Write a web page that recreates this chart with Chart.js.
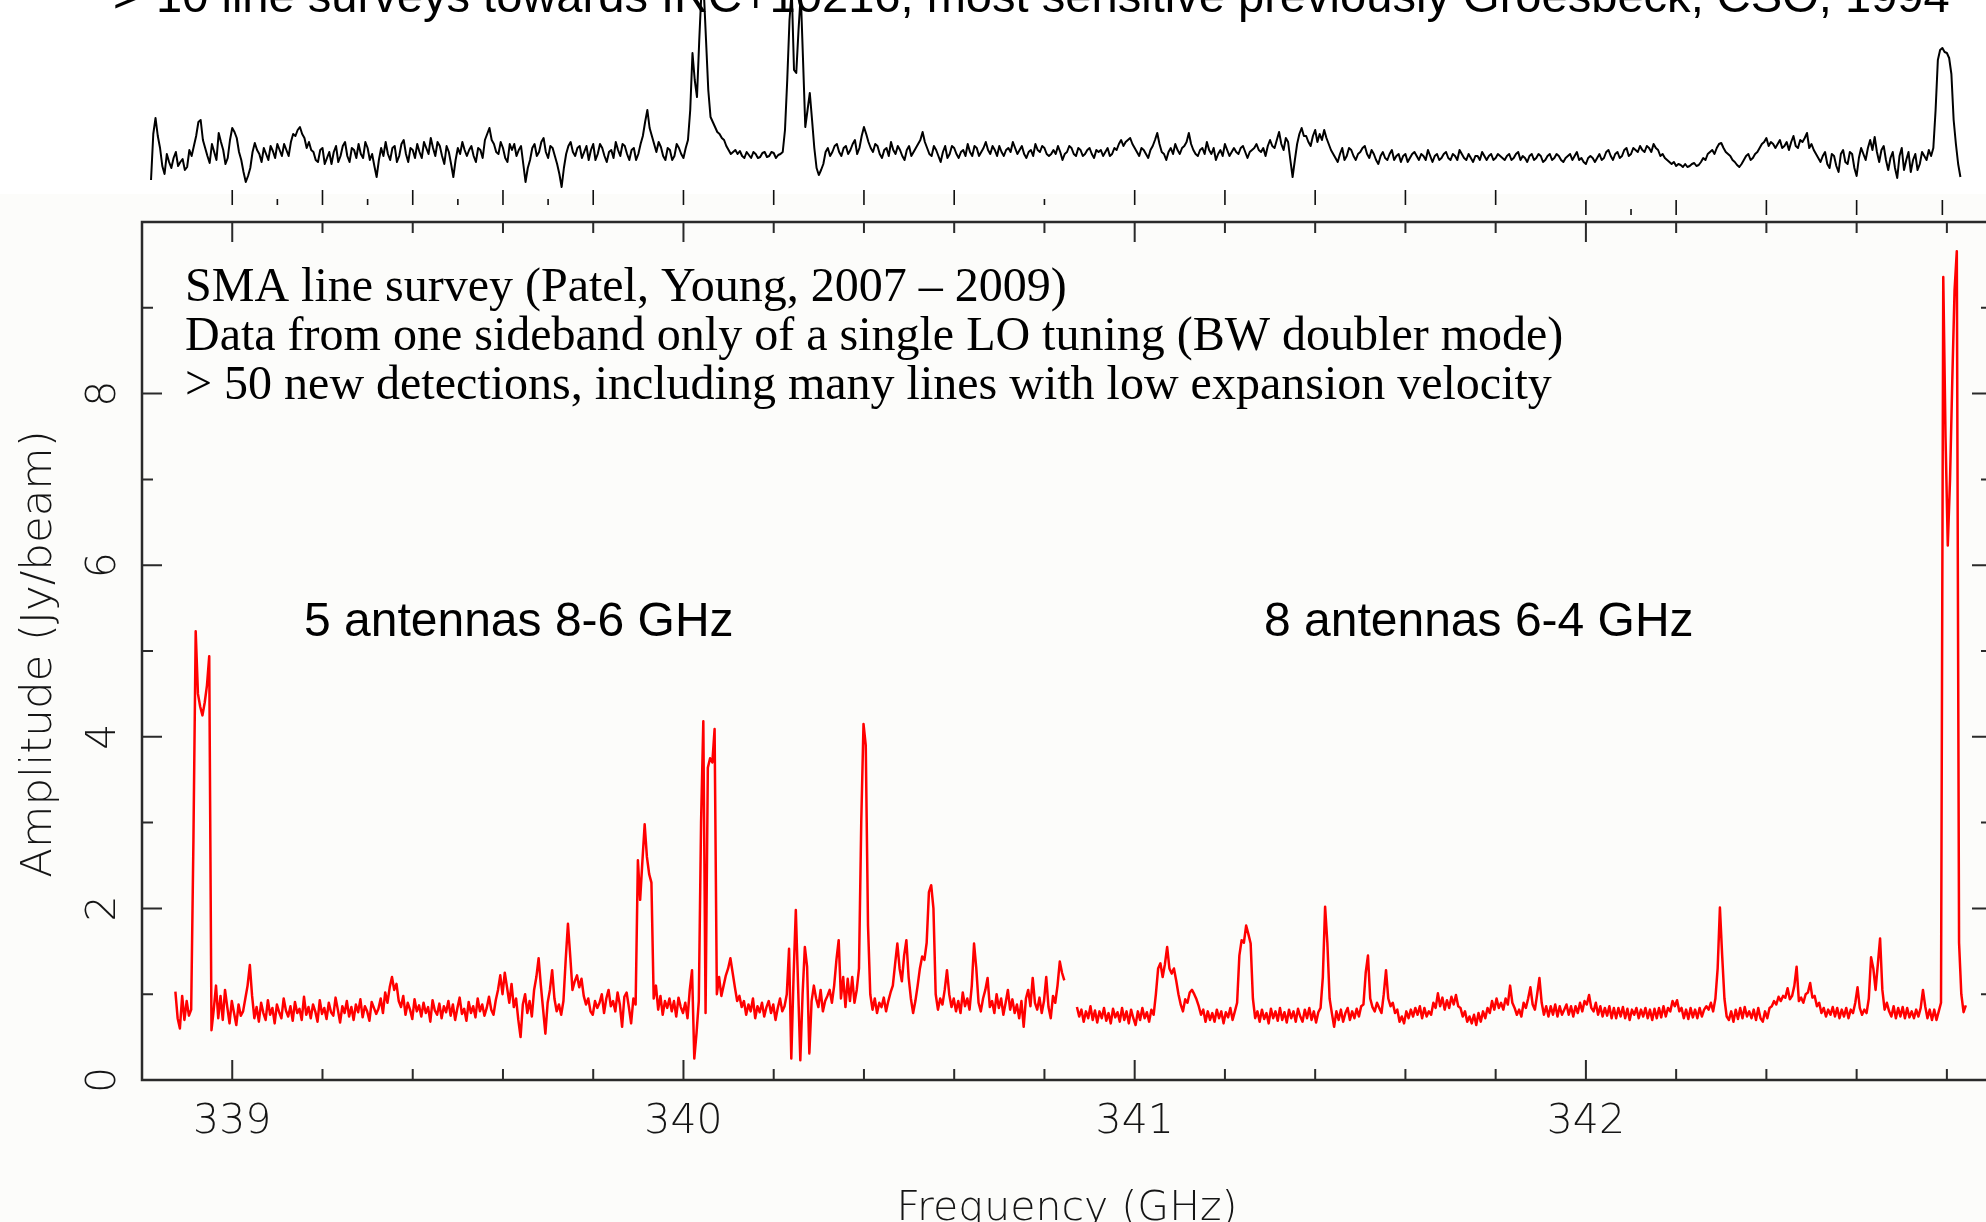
<!DOCTYPE html>
<html><head><meta charset="utf-8">
<script src="https://cdn.jsdelivr.net/npm/chart.js@4.4.1/dist/chart.umd.min.js"></script>
<style>
html,body{margin:0;padding:0;overflow:hidden;background:#fff;width:1986px;height:1222px;}
#main{position:absolute;left:0;top:0;}
#top{position:absolute;left:0;top:0;z-index:2;}
</style></head><body>
<canvas id="main" width="2010" height="1222"></canvas>
<canvas id="top" width="2010" height="222"></canvas>
<script>
// ---------------- DATA ----------------
// SMA spectrum, two spectral bands (channel spacing 5 MHz)
const channelGHz = 0.005;
const band1StartGHz = 338.874;   // 5 antennas 8-6 GHz
const band2StartGHz = 340.872;   // 8 antennas 6-4 GHz
const band1Amp = [
1.03,0.72,0.60,0.98,0.70,0.92,0.75,0.82,2.80,5.23,
4.50,4.35,4.25,4.40,4.60,4.94,0.58,0.82,1.10,0.72,
0.98,0.70,1.05,0.85,0.66,0.92,0.78,0.64,0.88,0.75,
0.80,0.95,1.10,1.34,0.98,0.72,0.85,0.68,0.90,0.78,
0.70,0.93,0.76,0.84,0.66,0.88,0.79,0.72,0.95,0.81,
0.74,0.86,0.69,0.91,0.78,0.83,0.70,0.97,0.76,0.85,
0.72,0.88,0.80,0.68,0.93,0.77,0.84,0.71,0.90,0.79,
0.75,0.96,0.82,0.67,0.86,0.78,0.92,0.74,0.85,0.70,
0.88,0.79,0.94,0.73,0.86,0.80,0.69,0.91,0.84,0.77,
0.83,0.95,0.78,1.02,0.90,1.08,1.20,1.05,1.12,0.92,
0.85,0.98,0.76,0.90,0.82,0.71,0.94,0.80,0.87,0.74,
0.90,0.78,0.85,0.68,0.93,0.81,0.76,0.89,0.72,0.86,
0.79,0.92,0.75,0.88,0.70,0.84,0.96,0.77,0.83,0.69,
0.91,0.78,0.86,0.73,0.95,0.80,0.88,0.75,0.84,0.97,
0.82,0.76,0.93,1.05,1.22,1.00,1.25,1.08,0.90,1.12,
0.85,0.95,0.70,0.50,0.88,1.00,0.78,0.92,0.74,1.05,
1.20,1.42,1.10,0.82,0.54,0.90,1.05,1.28,0.95,0.80,
0.88,0.76,0.92,1.40,1.82,1.45,1.05,1.15,1.22,1.08,
1.18,0.98,0.88,0.95,0.80,0.76,0.92,0.84,0.90,1.00,
0.78,0.95,1.05,0.86,0.92,0.80,1.02,0.88,0.62,0.97,
1.02,0.85,0.66,0.95,0.88,2.56,2.10,2.55,2.98,2.60,
2.40,2.30,0.95,1.10,0.82,0.98,0.76,0.92,0.84,0.95,
0.80,0.92,0.74,0.96,0.85,0.78,0.90,0.72,1.05,1.28,
0.25,0.55,0.92,3.00,4.18,0.78,3.64,3.75,3.70,4.09,
1.00,1.20,0.98,1.10,1.22,1.30,1.42,1.25,1.08,0.92,
0.98,0.85,0.92,0.76,0.88,0.80,0.95,0.72,0.86,0.79,
0.90,0.74,0.85,0.92,0.78,0.88,0.70,0.84,0.95,0.80,
0.86,1.00,1.53,0.25,1.20,1.98,1.10,0.23,1.00,1.55,
1.32,0.31,0.92,1.10,0.95,0.85,1.05,0.80,0.92,0.98,
1.05,0.90,1.10,1.40,1.63,0.95,1.20,0.85,1.18,0.92,
1.20,0.90,1.05,1.30,3.00,4.15,3.90,1.80,1.00,0.82,
0.95,0.78,0.90,0.85,0.96,0.80,0.92,1.02,1.10,1.35,
1.59,1.30,1.15,1.45,1.63,1.20,0.95,0.78,0.92,1.10,
1.30,1.44,1.40,1.60,2.19,2.27,2.00,1.00,0.82,0.95,
0.88,1.05,1.28,1.00,0.85,0.95,0.80,0.92,0.78,1.02,
0.86,0.95,0.82,1.10,1.59,1.30,0.90,0.80,0.95,1.05,
1.19,0.85,0.92,0.78,1.00,0.84,0.95,0.76,0.90,1.05,
0.82,0.94,0.78,0.88,0.72,0.92,0.62,0.95,1.05,0.86,
1.19,0.90,0.82,0.96,0.78,0.92,1.20,0.85,0.72,0.98,
0.90,1.10,1.38,1.25,1.16
];
const band2Amp = [
0.85,0.74,0.82,0.68,0.80,0.72,0.86,0.70,0.81,0.67,
0.80,0.72,0.84,0.69,0.78,0.66,0.83,0.73,0.79,0.68,
0.84,0.70,0.80,0.66,0.82,0.72,0.64,0.80,0.70,0.84,
0.72,0.79,0.68,0.82,0.76,1.00,1.30,1.36,1.20,1.35,
1.55,1.30,1.24,1.30,1.16,1.00,0.88,0.80,0.94,0.90,
1.02,1.05,1.00,0.94,0.86,0.76,0.82,0.68,0.80,0.70,
0.78,0.68,0.82,0.72,0.80,0.66,0.79,0.73,0.84,0.70,
0.80,0.90,1.45,1.63,1.60,1.80,1.70,1.59,0.95,0.72,
0.80,0.68,0.82,0.71,0.78,0.66,0.83,0.72,0.80,0.69,
0.84,0.70,0.79,0.67,0.82,0.72,0.80,0.68,0.83,0.74,
0.68,0.82,0.72,0.84,0.70,0.80,0.67,0.79,0.84,1.20,
2.02,1.60,0.95,0.78,0.62,0.80,0.70,0.82,0.68,0.78,
0.84,0.70,0.80,0.72,0.83,0.74,0.86,0.88,1.25,1.45,
0.95,0.85,0.80,0.90,0.84,0.78,1.00,1.28,0.95,0.86,
0.90,0.78,0.82,0.68,0.74,0.66,0.80,0.72,0.82,0.74,
0.84,0.76,0.86,0.72,0.84,0.74,0.80,0.76,0.90,0.84,
1.01,0.86,0.96,0.82,0.93,0.84,0.97,0.88,0.99,0.86,
0.84,0.74,0.80,0.68,0.74,0.66,0.76,0.64,0.78,0.68,
0.80,0.72,0.84,0.78,0.92,0.82,0.95,0.84,0.90,0.82,
0.95,0.88,1.10,0.90,0.84,0.76,0.82,0.74,0.90,0.84,
0.95,1.08,0.88,0.82,1.00,1.19,0.90,0.76,0.86,0.74,
0.86,0.76,0.88,0.74,0.86,0.76,0.82,0.88,0.76,0.86,
0.74,0.86,0.78,0.90,0.80,0.92,0.88,0.99,0.84,0.80,
0.90,0.76,0.86,0.74,0.84,0.75,0.86,0.72,0.84,0.72,
0.84,0.74,0.85,0.72,0.83,0.70,0.82,0.76,0.84,0.72,
0.82,0.74,0.84,0.72,0.82,0.70,0.83,0.72,0.84,0.73,
0.86,0.74,0.84,0.80,0.92,0.86,0.93,0.80,0.84,0.72,
0.82,0.71,0.84,0.73,0.82,0.72,0.84,0.74,0.82,0.86,
0.82,0.90,0.80,0.95,1.30,2.01,1.45,0.95,0.74,0.70,
0.80,0.68,0.82,0.71,0.84,0.72,0.85,0.74,0.80,0.72,
0.82,0.70,0.84,0.72,0.68,0.80,0.72,0.84,0.86,0.92,
0.88,0.97,0.92,0.98,0.96,1.07,0.94,0.98,1.10,1.32,
0.92,0.96,0.90,1.00,1.02,1.13,0.96,0.98,0.86,0.90,
0.78,0.84,0.74,0.82,0.76,0.85,0.74,0.84,0.72,0.82,
0.74,0.84,0.72,0.82,0.78,0.90,1.08,0.84,0.76,0.82,
0.78,0.95,1.43,1.30,1.05,1.35,1.65,1.05,0.82,0.90,
0.80,0.74,0.86,0.72,0.84,0.74,0.85,0.72,0.84,0.73,
0.80,0.72,0.82,0.74,0.84,1.05,0.86,0.72,0.82,0.70,
0.82,0.70,0.80,0.90,9.36,7.50,6.23,7.00,8.16,9.20,
9.66,1.60,1.00,0.79,0.87
];
// Earlier survey (top strip), arbitrary units.
// Read on a 10 MHz grid starting at 338.820 GHz, plus the channels in between (starting at 338.825 GHz).
const oldStepGHz = 0.01;
const oldStartGHz = 338.82;
const oldMidStartGHz = 338.825;
const oldSurvey = [
1.0,4.1,2.6,1.3,1.9,2.1,1.7,2.05,1.65,2.2,
3.2,4.0,2.6,1.85,2.4,3.35,2.5,2.1,3.6,3.1,
2.0,0.9,1.6,2.85,2.3,2.6,2.0,2.45,2.8,2.2,
2.5,2.9,3.2,3.65,3.1,2.9,2.4,1.9,2.6,2.1,
1.8,2.7,2.2,2.9,1.9,2.5,2.8,2.1,2.6,2.3,
1.15,2.6,2.9,2.0,2.7,2.2,3.0,1.9,2.5,2.8,
2.1,2.6,3.1,2.2,2.7,1.8,2.4,1.15,2.6,2.9,
2.2,2.7,1.9,2.5,3.0,3.6,2.8,2.3,2.6,1.9,
2.5,2.2,2.7,0.9,2.0,2.8,2.4,3.1,2.1,2.6,
1.8,0.65,2.3,2.9,2.2,2.7,2.4,2.0,2.8,2.3,
2.6,1.9,2.5,2.9,2.2,2.7,2.0,2.6,2.3,3.2,
4.5,3.2,2.4,2.65,2.0,2.5,2.2,2.6,2.1,3.0,
7.35,5.15,10.5,8.0,4.15,3.65,3.3,3.0,2.5,2.4,
2.3,2.2,2.4,2.1,2.3,2.15,2.4,2.2,2.35,2.25,
2.4,6.0,10.5,6.35,10.3,3.65,5.35,2.6,1.25,1.8,
2.6,2.4,2.8,2.2,2.7,2.5,3.0,2.6,3.65,2.9,
2.4,2.7,2.1,2.6,2.9,2.3,2.5,2.0,2.7,2.4,
2.8,3.4,2.6,2.2,2.5,1.9,2.7,2.3,2.6,2.1,
2.5,2.8,2.2,2.6,2.4,2.9,2.3,2.5,2.7,2.2,
2.6,2.9,2.3,2.7,2.1,2.5,2.8,2.4,2.6,2.2,
2.5,2.7,2.0,2.4,2.6,2.2,2.5,2.3,2.6,2.1,
2.4,2.2,2.6,2.3,2.5,3.0,2.9,3.1,2.6,2.2,
2.5,2.1,2.7,3.35,2.4,2.0,2.6,2.8,2.3,2.7,
3.35,2.5,2.2,2.6,2.9,2.3,2.0,2.5,2.8,2.2,
2.6,2.3,2.7,2.1,2.5,2.8,2.4,2.2,3.0,2.6,
3.4,2.5,2.9,1.15,2.8,3.6,3.2,2.7,3.5,3.3,
3.5,2.8,2.3,1.9,2.6,2.2,2.5,2.0,2.4,2.7,
2.1,2.3,1.8,2.4,2.0,2.5,2.2,1.9,2.3,2.1,
2.4,2.0,2.2,2.5,1.9,2.3,2.1,2.4,2.0,2.2,
2.5,2.1,2.3,1.9,2.2,2.4,2.0,2.3,2.1,2.2,
2.0,2.3,2.1,2.4,2.2,1.9,2.3,2.1,2.2,2.0,
2.3,2.1,2.2,1.9,2.2,2.0,2.4,2.1,1.8,2.2,
1.9,2.3,2.1,2.5,2.0,2.4,2.2,2.6,2.3,2.5,
2.7,2.4,2.6,2.8,2.5,2.3,2.0,1.8,1.7,1.75,
1.8,1.7,1.85,1.75,2.1,2.3,2.5,2.6,2.85,2.4,
2.2,1.9,1.65,2.0,2.3,2.1,2.4,2.8,3.1,2.9,
2.6,3.0,2.7,2.5,3.2,2.6,2.9,3.35,2.8,2.3,
1.9,2.4,1.6,2.2,1.4,2.5,1.8,2.3,1.2,2.6,
2.0,3.0,3.15,1.9,2.7,1.5,2.4,1.1,2.6,2.0,
1.4,2.3,1.8,2.2,2.5,2.6,7.0,7.6,7.35,6.3,
2.8,1.15
];
const oldSurveyMid = [
3.3,3.2,1.7,2.3,1.6,2.4,1.9,1.5,2.5,2.7,
3.9,3.0,2.2,2.8,2.0,2.9,1.8,3.0,3.4,2.4,
1.4,1.2,2.4,2.5,1.9,2.3,2.7,2.1,2.5,2.8,
2.2,3.3,3.5,3.3,2.6,2.5,2.0,2.5,1.8,2.4,
2.4,1.9,2.7,2.2,2.6,2.1,2.3,2.9,2.0,1.7,
2.0,2.2,2.3,2.6,1.9,2.8,2.3,2.6,2.1,2.4,
2.9,2.3,2.6,2.9,2.2,2.7,1.8,2.0,2.3,2.5,
2.5,2.2,2.6,2.1,3.3,3.0,2.4,2.9,2.1,2.8,
2.8,2.5,1.8,1.6,2.6,2.2,2.9,2.4,2.7,2.2,
1.3,1.6,2.7,2.4,2.6,2.1,2.7,2.5,2.0,2.8,
2.2,2.4,2.1,2.5,2.8,2.3,2.5,2.0,2.8,3.9,
3.6,2.8,2.9,2.2,2.6,2.0,2.8,2.3,2.6,4.5,
6.0,8.0,10.5,5.5,3.9,3.4,3.1,2.7,2.3,2.5,
2.45,2.1,2.25,2.4,2.1,2.35,2.15,2.4,2.1,2.3,
3.5,9.0,6.5,8.5,7.0,4.5,4.0,1.6,1.5,2.4,
2.2,2.7,2.4,2.6,2.3,2.8,2.3,3.2,3.3,2.6,
2.8,2.3,2.5,2.2,2.5,2.7,2.2,2.5,2.2,2.6,
3.0,2.9,2.3,2.7,2.2,2.4,2.1,2.7,2.3,2.4,
2.2,2.4,2.7,2.2,2.6,2.5,2.7,2.2,2.4,2.5,
2.4,2.6,2.5,2.3,2.4,2.2,2.5,2.7,2.3,2.3,
2.3,2.4,2.3,2.7,2.3,2.6,2.2,2.5,2.3,2.5,
2.5,2.4,2.2,2.6,2.8,2.7,3.0,2.8,2.4,2.6,
2.3,2.5,3.0,2.8,2.3,2.4,2.3,2.5,2.6,2.9,
2.8,2.3,2.5,2.3,2.5,2.6,2.3,2.2,2.5,2.4,
2.4,2.6,2.4,2.4,2.6,2.5,2.6,2.7,2.7,3.0,
2.8,3.1,2.0,2.0,3.3,3.2,2.9,3.2,2.9,3.0,
3.1,2.5,2.1,2.3,2.0,2.6,2.2,2.3,2.6,2.3,
2.5,2.0,2.2,2.1,2.3,2.0,2.3,2.2,1.9,2.3,
2.2,2.3,2.0,2.2,2.2,2.0,2.3,2.1,2.3,2.0,
2.3,2.0,2.1,2.2,2.0,2.2,2.2,2.0,2.3,2.1,
2.2,2.0,2.3,2.0,2.1,2.2,2.0,2.3,1.9,2.2,
2.0,2.3,2.0,2.1,2.3,2.2,2.0,1.9,2.1,2.1,
2.1,2.0,2.4,2.2,2.3,2.1,2.5,2.2,2.6,2.4,
2.5,2.7,2.4,2.6,2.2,2.1,1.9,1.9,1.8,1.65,
1.65,1.8,1.7,1.9,2.0,2.4,2.3,2.8,2.6,2.3,
2.0,1.75,1.8,2.2,2.0,2.3,2.6,2.9,2.7,2.8,
2.8,2.6,2.9,2.9,2.7,3.0,3.1,2.6,2.5,2.1,
2.2,1.8,2.3,1.7,2.3,1.9,2.4,1.6,2.1,2.3,
2.6,2.5,2.4,2.5,2.0,2.1,1.6,2.2,1.5,2.4,
2.0,1.5,2.4,2.0,2.2,4.5,7.5,7.4,7.1,4.0,
1.8
];
// Axes / ticks
const xMajorTicks = [339, 340, 341, 342];
const xTickLabels = ['339', '340', '341', '342'];
const xMinorTicks = [339.2, 339.4, 339.6, 339.8, 340.2, 340.4, 340.6, 340.8, 341.2, 341.4, 341.6, 341.8, 342.2, 342.4, 342.6, 342.8];
const yMajorTicks = [0, 2, 4, 6, 8, 10];
const yMinorTicks = [1, 3, 5, 7, 9];
const yLabelTicks = [0, 2, 4, 6, 8];
const yTickLabels = ['0', '2', '4', '6', '8'];
const oldLongTicks = [339.0, 339.2, 339.4, 339.6, 339.8, 340.0, 340.2, 340.4, 340.6, 341.0, 341.2, 341.4, 341.6, 341.8];
const oldShortTicks = [339.1, 339.3, 339.5, 339.7, 340.8];
const oldLongTicksLow = [342.0, 342.2, 342.4, 342.6, 342.79];
const oldShortTicksLow = [342.1];
// Texts
const xTitle = 'Frequency (GHz)';
const yTitle = 'Amplitude (Jy/beam)';
const noteLines = [
  'SMA line survey (Patel, Young, 2007 \u2013 2009)',
  'Data from one sideband only of a single LO tuning (BW doubler mode)',
  '> 50 new detections, including many lines with low expansion velocity'
];
const band1Label = '5 antennas 8-6 GHz';
const band2Label = '8 antennas 6-4 GHz';
const topNote = '10 line surveys towards IRC+10216, most sensitive previously Groesbeck, CSO, 1994';

// ---------------- BUILD ----------------
const band1Points = band1Amp.map((a, i) => ({ x: band1StartGHz + i * channelGHz, y: a }));
const band2Points = band2Amp.map((a, i) => ({ x: band2StartGHz + i * channelGHz, y: a }));
const oldPoints = [];
oldSurvey.forEach((a, i) => {
  oldPoints.push({ x: oldStartGHz + i * oldStepGHz, y: a });
  if (i < oldSurveyMid.length) oldPoints.push({ x: oldMidStartGHz + i * oldStepGHz, y: oldSurveyMid[i] });
});

const AXIS_COLOR = '#2a2a2a';
const LABEL_FONT = '200 41px "DejaVu Sans", "Liberation Sans", sans-serif';

const mainDecor = {
  id: 'mainDecor',
  beforeDraw(chart) {
    const ctx = chart.ctx;
    ctx.save(); ctx.fillStyle = '#fcfcfa'; ctx.fillRect(0, 0, chart.width, chart.height); ctx.restore();
  },
  afterDraw(chart) {
    const ctx = chart.ctx, a = chart.chartArea, x = chart.scales.x, y = chart.scales.y;
    ctx.save();
    ctx.strokeStyle = AXIS_COLOR;
    ctx.lineWidth = 2.5;
    ctx.strokeRect(a.left, a.top, a.right - a.left, a.bottom - a.top);
    ctx.lineWidth = 2;
    ctx.beginPath();
    const tx = (vals, len) => vals.forEach(v => { const p = x.getPixelForValue(v);
      ctx.moveTo(p, a.bottom); ctx.lineTo(p, a.bottom - len); ctx.moveTo(p, a.top); ctx.lineTo(p, a.top + len); });
    const ty = (vals, len) => vals.forEach(v => { const p = y.getPixelForValue(v);
      ctx.moveTo(a.left, p); ctx.lineTo(a.left + len, p); ctx.moveTo(a.right, p); ctx.lineTo(a.right - len, p); });
    tx(xMajorTicks, 20); tx(xMinorTicks, 11); ty(yMajorTicks, 20); ty(yMinorTicks, 11);
    ctx.stroke();

    ctx.fillStyle = '#151515';
    ctx.font = LABEL_FONT;
    ctx.textAlign = 'center';
    ctx.textBaseline = 'alphabetic';
    xMajorTicks.forEach((v, i) => ctx.fillText(xTickLabels[i], x.getPixelForValue(v), a.bottom + 53));
    yLabelTicks.forEach((v, i) => {
      ctx.save(); ctx.translate(a.left - 27, y.getPixelForValue(v)); ctx.rotate(-Math.PI / 2);
      ctx.fillText(yTickLabels[i], 0, 0); ctx.restore();
    });
    ctx.fillText(xTitle, (a.left + a.right) / 2, a.bottom + 140);
    ctx.save(); ctx.translate(a.left - 91, (a.top + a.bottom) / 2 + 3); ctx.rotate(-Math.PI / 2);
    ctx.font = '200 43.5px "DejaVu Sans", "Liberation Sans", sans-serif';
    ctx.fillText(yTitle, 0, 0); ctx.restore();

    ctx.textAlign = 'left';
    ctx.fillStyle = '#000';
    ctx.font = '48px "Liberation Serif", "Times New Roman", serif';
    noteLines.forEach((t, i) => ctx.fillText(t, a.left + 43, a.top + 79 + i * 49));
    ctx.font = '48px "Liberation Sans", Arial, sans-serif';
    ctx.fillText(band1Label, a.left + 162, a.top + 414);
    ctx.fillText(band2Label, a.left + 1122, a.top + 414);
    ctx.restore();
  }
};

const topDecor = {
  id: 'topDecor',
  beforeDraw(chart) {
    const ctx = chart.ctx;
    ctx.save(); ctx.fillStyle = '#ffffff'; ctx.fillRect(0, 0, chart.width, 194); ctx.restore();
  },
  afterDraw(chart) {
    const ctx = chart.ctx, x = chart.scales.x;
    ctx.save();
    ctx.strokeStyle = '#111'; ctx.lineWidth = 1.6;
    ctx.beginPath();
    const t = (vals, y0, y1) => vals.forEach(v => { const p = x.getPixelForValue(v); ctx.moveTo(p, y0); ctx.lineTo(p, y1); });
    t(oldLongTicks, 190, 205); t(oldShortTicks, 199, 205);
    t(oldLongTicksLow, 200, 215); t(oldShortTicksLow, 209, 215);
    ctx.stroke();
    ctx.fillStyle = '#000';
    ctx.textBaseline = 'alphabetic'; ctx.textAlign = 'left';
    const fam = '"Liberation Sans Narrow", "Liberation Sans", Arial, sans-serif';
    ctx.font = '100px ' + fam;
    const w = ctx.measureText(topNote).width;
    const size = 100 * 1794 / w;
    ctx.font = size.toFixed(2) + 'px ' + fam;
    ctx.fillText(topNote, 156, 12);
    ctx.fillText('>', 113, 12);
    ctx.restore();
  }
};

new Chart(document.getElementById('main'), {
  type: 'line',
  data: { datasets: [
    { data: band1Points, borderColor: '#ff0000', borderWidth: 2.5, pointRadius: 0, tension: 0, fill: false, borderJoinStyle: 'round' },
    { data: band2Points, borderColor: '#ff0000', borderWidth: 2.5, pointRadius: 0, tension: 0, fill: false, borderJoinStyle: 'round' }
  ]},
  options: {
    responsive: false, animation: false, events: [],
    layout: { padding: { left: 142, right: 18, top: 222, bottom: 142 } },
    plugins: { legend: { display: false }, tooltip: { enabled: false } },
    scales: {
      x: { type: 'linear', min: 338.8, max: 342.9, display: false },
      y: { type: 'linear', min: 0, max: 10, display: false }
    }
  },
  plugins: [mainDecor]
});

new Chart(document.getElementById('top'), {
  type: 'line',
  data: { datasets: [
    { data: oldPoints, borderColor: '#000000', borderWidth: 2.0, pointRadius: 0, tension: 0, fill: false, borderJoinStyle: 'round' }
  ]},
  options: {
    responsive: false, animation: false, events: [],
    layout: { padding: { left: 142, right: 18, top: 0, bottom: 22 } },
    plugins: { legend: { display: false }, tooltip: { enabled: false } },
    scales: {
      x: { type: 'linear', min: 338.8, max: 342.9, display: false },
      y: { type: 'linear', min: 0, max: 10, display: false }
    }
  },
  plugins: [topDecor]
});
</script>
</body></html>
